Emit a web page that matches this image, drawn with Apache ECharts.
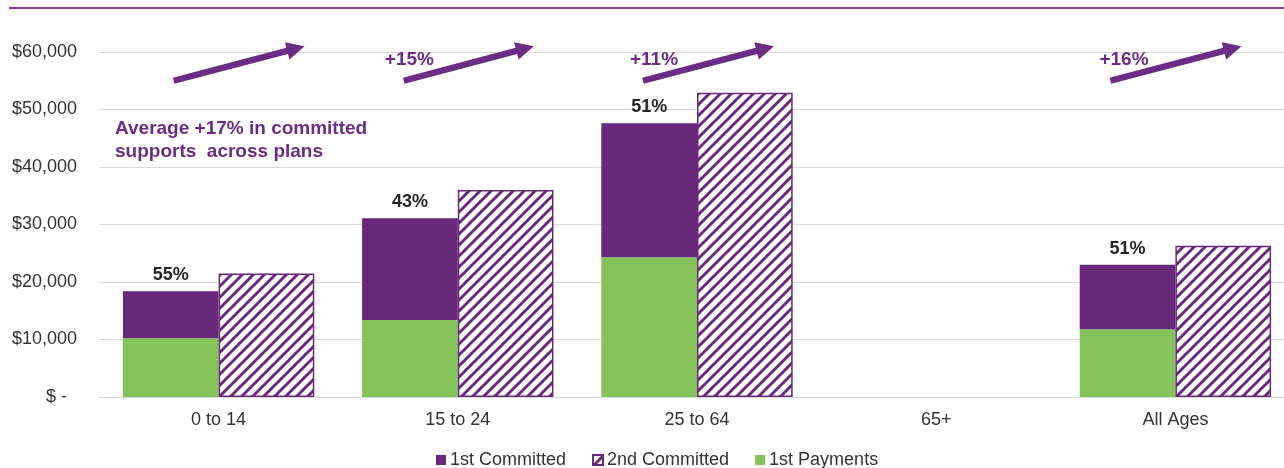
<!DOCTYPE html>
<html>
<head>
<meta charset="utf-8">
<script src="https://cdn.jsdelivr.net/npm/echarts@6/dist/echarts.min.js"></script>
<style>
html,body{margin:0;padding:0;background:#fff;overflow:hidden;}
#chart{width:1300px;height:468px;}
</style>
</head>
<body>
<div id="chart"></div>
<script>
// ---- data ----
const categories = ['0 to 14', '15 to 24', '25 to 64', '65+', 'All Ages'];
const committed1 = [18400, 31100, 47600, null, 23000];
const committed2 = [21500, 36000, 52900, null, 26300];
const payments1  = [10200, 13400, 24300, null, 11800];
const paidShareLabels = ['55%', '43%', '51%', '', '51%'];
const yTicks = [0, 10000, 20000, 30000, 40000, 50000, 60000];
const arrowCats = [0, 1, 2, 4];
const arrowLabels = ['', '+15%', '+11%', '+16%'];
const noteText = 'Average +17% in committed\nsupports  across plans';

// ---- styles ----
const PURPLE = '#68297A';
const ARROW = '#6B2C85';
const GREEN = '#83C35A';
const FONT = '"Liberation Sans", Arial, sans-serif';

function makePattern() {
  const p = 11;
  const c = document.createElement('canvas');
  c.width = p; c.height = p;
  const ctx = c.getContext('2d');
  ctx.fillStyle = '#ffffff';
  ctx.fillRect(0, 0, p, p);
  ctx.strokeStyle = PURPLE;
  ctx.lineWidth = 3;
  for (const k of [-p, 0, p]) {
    ctx.beginPath();
    ctx.moveTo(k - 1, p + 1);
    ctx.lineTo(k + p + 1, -1);
    ctx.stroke();
  }
  return c;
}
const pattern = makePattern();

const remainder = committed1.map((v, i) => (v == null ? null : v - payments1[i]));

const chart = echarts.init(document.getElementById('chart'), null, {renderer: 'canvas'});

const option = {
  animation: false,
  textStyle: {fontFamily: FONT},
  grid: {left: 99, right: 5, top: 52, bottom: 71, containLabel: false},
  legend: {
    data: ['1st Committed', '2nd Committed', '1st Payments'],
    left: 436, top: 451, padding: 0,
    itemWidth: 10, itemHeight: 10, itemGap: 26,
    icon: 'rect',
    textStyle: {fontSize: 18, color: '#333', fontFamily: FONT, padding: [0, 0, 0, -1]}
  },
  xAxis: {
    type: 'category',
    data: categories,
    axisLine: {show: true, lineStyle: {color: '#d9d9d9', width: 1}},
    axisTick: {show: false},
    axisLabel: {fontSize: 18, color: '#333', margin: 14, fontFamily: FONT}
  },
  yAxis: {
    type: 'value',
    min: yTicks[0], max: yTicks[yTicks.length - 1], interval: 10000,
    axisLine: {show: false},
    axisTick: {show: false},
    splitLine: {lineStyle: {color: '#d9d9d9', width: 1}},
    axisLabel: {
      fontSize: 18, color: '#333', margin: 22, fontFamily: FONT,
      formatter: v => v === 0 ? '$ -  ' : '$' + v.toLocaleString('en-US')
    }
  },
  series: [
    {
      name: '1st Payments', type: 'bar', stack: 'first',
      data: payments1,
      itemStyle: {color: GREEN},
      barGap: '0%', barCategoryGap: '20%'
    },
    {
      name: '1st Committed', type: 'bar', stack: 'first',
      data: remainder,
      itemStyle: {color: PURPLE},
      barGap: '0%', barCategoryGap: '20%',
      label: {
        show: true, position: 'top', distance: 7,
        fontSize: 18, fontWeight: 'bold', color: '#262626', fontFamily: FONT,
        formatter: p => paidShareLabels[p.dataIndex]
      }
    },
    {
      name: '2nd Committed', type: 'bar', stack: 'second',
      data: committed2,
      itemStyle: {color: {image: pattern, repeat: 'repeat'}, borderColor: PURPLE, borderWidth: 1.5},
      barGap: '0%', barCategoryGap: '20%'
    }
  ]
};
chart.setOption(option);

// ---- annotations (arrows, labels) ----
function arrowPoly(x1, y1, x2, y2) {
  const dx = x2 - x1, dy = y2 - y1;
  const L = Math.hypot(dx, dy);
  const ux = dx / L, uy = dy / L;
  const nx = -uy, ny = ux;
  const hl = 18, hw = 9, sw = 3.2;
  const bx = x2 - ux * hl, by = y2 - uy * hl;
  return [
    [x1 + nx * sw, y1 + ny * sw],
    [bx + nx * sw, by + ny * sw],
    [bx + nx * hw, by + ny * hw],
    [x2, y2],
    [bx - nx * hw, by - ny * hw],
    [bx - nx * sw, by - ny * sw],
    [x1 - nx * sw, y1 - ny * sw]
  ];
}
const tailOff = [-45, -54, -54, -65];
const tipOff = [86, 76, 77, 66];
const labelOff = [0, -73, -67, -76];
const tailVal = 55000, tipVal = 61000, labelVal = 58600;

const els = [];
arrowCats.forEach((ci, k) => {
  const cx = chart.convertToPixel({xAxisIndex: 0}, categories[ci]);
  const yT = chart.convertToPixel({yAxisIndex: 0}, tailVal);
  const yH = chart.convertToPixel({yAxisIndex: 0}, tipVal);
  els.push({
    type: 'polygon', silent: true,
    shape: {points: arrowPoly(cx + tailOff[k], yT, cx + tipOff[k], yH)},
    style: {fill: ARROW}
  });
  if (arrowLabels[k]) {
    const yL = chart.convertToPixel({yAxisIndex: 0}, labelVal);
    els.push({
      type: 'text', silent: true,
      x: cx + labelOff[k], y: yL,
      style: {text: arrowLabels[k], fill: ARROW, font: 'bold 19px ' + FONT, textVerticalAlign: 'middle', textAlign: 'left'}
    });
  }
});
els.push({
  type: 'text', silent: true, x: 115, y: 117,
  style: {text: noteText, fill: ARROW, font: 'bold 19px ' + FONT, lineHeight: 23, textAlign: 'left', textVerticalAlign: 'top'}
});
els.push({
  type: 'line', silent: true,
  shape: {x1: 9, y1: 8, x2: 1300, y2: 8},
  style: {stroke: '#7B3F99', lineWidth: 2}
});
chart.setOption({graphic: {elements: els}});
</script>
</body>
</html>
